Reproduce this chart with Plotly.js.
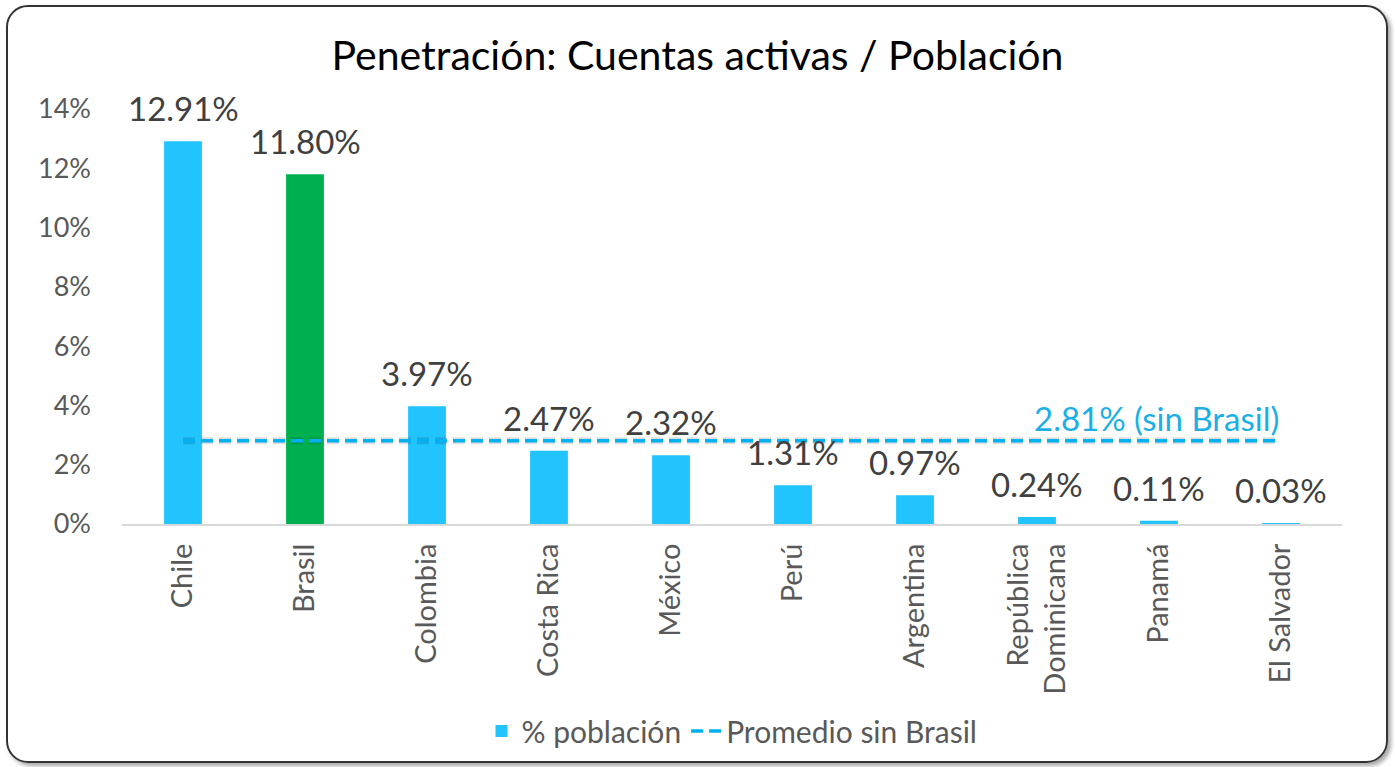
<!DOCTYPE html>
<html><head><meta charset="utf-8">
<script src="https://cdn.plot.ly/plotly-3.0.1.min.js"></script>
<style>
html,body{margin:0;padding:0;background:#fff;}
#wrap{position:relative;width:1395px;height:767px;}
#chart{position:absolute;left:0;top:0;width:1395px;height:767px;}
#frame{position:absolute;left:6px;top:5px;width:1378px;height:754px;border:2px solid #333;border-radius:22px;box-shadow:3px 3px 4px rgba(0,0,0,0.35);pointer-events:none;}
</style></head>
<body><div id="wrap"><div id="frame"></div><div id="chart"></div></div>
<script>
const categories = ["Chile","Brasil","Colombia","Costa Rica","México","Perú","Argentina","República<br>Dominicana","Panamá","El Salvador"];
const values = [12.91, 11.80, 3.97, 2.47, 2.32, 1.31, 0.97, 0.24, 0.11, 0.03];
const labels = ["12.91%","11.80%","3.97%","2.47%","2.32%","1.31%","0.97%","0.24%","0.11%","0.03%"];
const barColors = ["#21C4FF","#00B050","#21C4FF","#21C4FF","#21C4FF","#21C4FF","#21C4FF","#21C4FF","#21C4FF","#21C4FF"];
const avgValue = 2.81;
const avgLabel = "2.81% (sin Brasil)";
const yTicks = [0,2,4,6,8,10,12,14];

const FONT = "Lato, 'Open Sans', sans-serif";
const DASH = "12px,6px";

const bars = {
  type:"bar", x:categories, y:values, name:"% población",
  marker:{color:barColors}, hoverinfo:"skip"
};
const shadow = {
  type:"scatter", mode:"lines", showlegend:false,
  x:[categories[0], categories[categories.length-1]], y:[avgValue, avgValue],
  line:{color:"rgba(0,0,0,0.13)", width:7, dash:DASH}, hoverinfo:"skip"
};
const avgLine = {
  type:"scatter", mode:"lines", name:"Promedio sin Brasil",
  x:[categories[0], categories[categories.length-1]], y:[avgValue, avgValue],
  line:{color:"#00B0F0", width:3.5, dash:DASH}, hoverinfo:"skip"
};

const annotations = categories.map((c,i)=>({
  x:c, y:values[i], text:labels[i], showarrow:false, yanchor:"bottom", yshift:11,
  font:{family:FONT, size:33, color:"#404040"}
}));
annotations.push({
  x:categories[categories.length-1], y:avgValue, text:avgLabel, showarrow:false,
  xanchor:"right", yanchor:"bottom", yshift:1, xshift:0,
  font:{family:FONT, size:33, color:"#1AAFE6"}
});

const layout = {
  width:1395, height:767,
  margin:{l:122, r:53, t:109, b:242},
  paper_bgcolor:"rgba(0,0,0,0)", plot_bgcolor:"rgba(0,0,0,0)",
  title:{text:"Penetración: Cuentas activas / Población", x:0.5, xanchor:"center", y:0.928, yanchor:"middle",
    font:{family:FONT, size:41, color:"#000"}},
  bargap:0.69,
  showlegend:true,
  legend:{orientation:"h", x:0.5, xanchor:"center", y:-0.495, yanchor:"middle",
    font:{family:FONT, size:30, color:"#595959"}, traceorder:"normal"},
  xaxis:{type:"category", tickangle:-90, showline:true, linecolor:"#D9D9D9", linewidth:2,
    ticks:"", ticklabelstandoff:6, tickfont:{family:FONT, size:29, color:"#595959"}, fixedrange:true, showgrid:false},
  yaxis:{range:[0,14], tickvals:yTicks, ticktext:yTicks.map(v=>v+"%"), showgrid:false, zeroline:false,
    showline:false, ticks:"", ticklabelstandoff:30,
    tickfont:{family:FONT, size:27, color:"#595959"}, fixedrange:true},
  annotations:annotations
};

Plotly.newPlot("chart",[bars, shadow, avgLine],layout,{displayModeBar:false, staticPlot:true});
</script></body></html>
